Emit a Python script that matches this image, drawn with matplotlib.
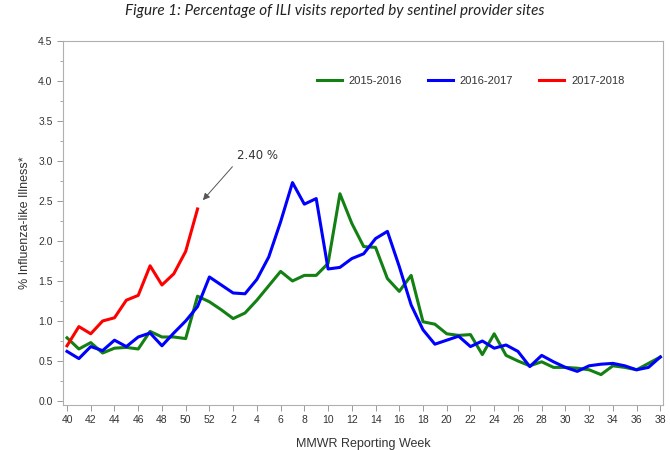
import matplotlib
matplotlib.use("Agg")
import matplotlib.pyplot as plt
from matplotlib.ticker import MultipleLocator

# MMWR weeks 40..52 then 1..38
weeks = list(range(40, 53)) + list(range(1, 39))

ili_2015_2016 = [
    0.79, 0.65, 0.73, 0.60, 0.66, 0.67, 0.65, 0.87, 0.80, 0.80,
    0.78, 1.31, 1.24, 1.14, 1.03, 1.10, 1.26, 1.44, 1.62, 1.50,
    1.57, 1.57, 1.72, 2.59, 2.22, 1.93, 1.92, 1.53, 1.37, 1.57,
    0.99, 0.96, 0.84, 0.82, 0.83, 0.58, 0.84, 0.57, 0.50, 0.44,
    0.49, 0.42, 0.42, 0.41, 0.39, 0.33, 0.44, 0.42, 0.39, 0.47,
    0.55,
]
ili_2016_2017 = [
    0.62, 0.53, 0.68, 0.63, 0.76, 0.68, 0.80, 0.85, 0.69, 0.85,
    1.00, 1.18, 1.55, 1.45, 1.35, 1.34, 1.52, 1.80, 2.24, 2.73,
    2.46, 2.53, 1.65, 1.67, 1.78, 1.84, 2.03, 2.12, 1.68, 1.20,
    0.89, 0.71, 0.76, 0.81, 0.68, 0.75, 0.66, 0.70, 0.62, 0.43,
    0.57, 0.49, 0.42, 0.37, 0.44, 0.46, 0.47, 0.44, 0.39, 0.42,
    0.55,
]
ili_2017_2018 = [
    0.69, 0.93, 0.84, 1.00, 1.04, 1.26, 1.32, 1.69, 1.45, 1.59,
    1.87, 2.40,
]

series_labels = ["2015-2016", "2016-2017", "2017-2018"]
series_colors = ["#138013", "#0000ff", "#ff0000"]

fig = plt.figure(figsize=(6.7, 4.5), dpi=100)
ax = fig.add_axes([0.094, 0.1, 0.896, 0.809])

pos = list(range(len(weeks)))
all_series = [ili_2015_2016, ili_2016_2017, ili_2017_2018]
for values, label, color in zip(all_series, series_labels, series_colors):
    ax.plot(pos[:len(values)], values, color=color, linewidth=2.2,
            label=label, solid_joinstyle="round")

last = len(ili_2017_2018) - 1
ax.annotate(
    f"{ili_2017_2018[-1]:.2f} %",
    xy=(last + 0.45, ili_2017_2018[-1] + 0.11),
    xytext=(last + 3.3, 3.07),
    ha="left", va="center",
    fontsize=8.5, color="#333333", family="DejaVu Sans",
    arrowprops=dict(arrowstyle="-|>", color="#555555", lw=0.7,
                    shrinkA=2, shrinkB=0, mutation_scale=10,
                    relpos=(0.0, 0.0)),
)

ax.set_xlim(-0.34, 50.25)
ax.set_ylim(-0.05, 4.5)
ax.set_xticks(pos[::2])
ax.set_xticklabels([str(w) for w in weeks[::2]])
ax.yaxis.set_major_locator(MultipleLocator(0.5))
ax.yaxis.set_minor_locator(MultipleLocator(0.25))
ax.yaxis.set_major_formatter(plt.FuncFormatter(lambda v, p: f"{v:.1f}"))

narrow = ["Liberation Sans Narrow", "Liberation Sans", "DejaVu Sans"]
for lab in ax.get_xticklabels() + ax.get_yticklabels():
    lab.set_family(narrow)
    lab.set_fontsize(7.5)
    lab.set_color("#333333")

ax.tick_params(axis="both", which="both", direction="out", color="#999999")
ax.tick_params(axis="both", which="major", length=4, width=0.7)
ax.tick_params(axis="y", which="minor", length=2.5, width=0.6)
for spine in ax.spines.values():
    spine.set_color("#b0b0b0")
    spine.set_linewidth(0.8)

ax.set_xlabel("MMWR Reporting Week", family="Liberation Sans", fontsize=9,
              color="#333333", labelpad=9)
ax.set_ylabel("% Influenza-like Illness*", family="Liberation Sans",
              fontsize=9, color="#333333", labelpad=5)

leg = ax.legend(loc="center left", bbox_to_anchor=(0.415, 0.889), ncol=3,
                frameon=False, handlelength=2.3, columnspacing=2.3,
                handletextpad=0.6, borderaxespad=0.0,
                prop={"family": narrow, "size": 8})
for text in leg.get_texts():
    text.set_color("#333333")

fig.text(0.5, 0.99, "Figure 1: Percentage of ILI visits reported by sentinel provider sites",
         ha="center", va="top", fontsize=11, style="italic",
         family=["Lato", "Open Sans", "DejaVu Sans"], color="#222222")

fig.savefig("out.png", dpi=100)
